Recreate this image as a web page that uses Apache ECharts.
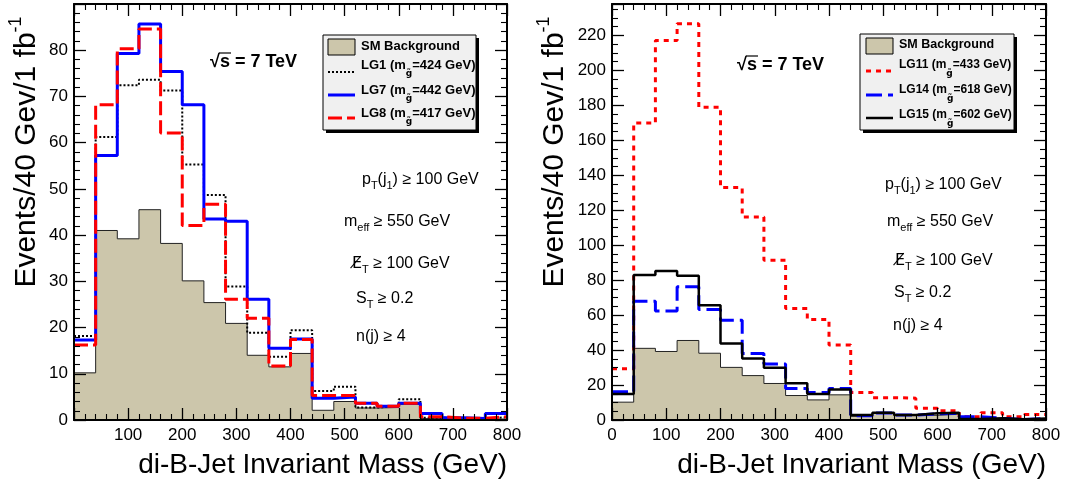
<!DOCTYPE html>
<html><head><meta charset="utf-8">
<script src="https://cdn.jsdelivr.net/npm/echarts@6/dist/echarts.min.js"></script>
<style>html,body{margin:0;padding:0;background:#fff}#c{width:1066px;height:487px}</style>
</head><body><div id="c"></div>
<script>
// ---- data ----
const binLow = [0,40,80,120,160,200,240,280,320,360,400,440,480,520,560,600,640,680,720,760];
const xMax = 800;
const xTicks = [0,100,200,300,400,500,600,700,800];
const yTicksLeft = [0,10,20,30,40,50,60,70,80];
const yTicksRight = [0,20,40,60,80,100,120,140,160,180,200,220];

const smBackground = [10.2,41.0,39.2,45.5,38.2,30.1,25.4,20.9,14.0,11.5,14.4,2.1,4.0,2.6,2.7,3.4,0.3,0.2,0.2,0.2];
const lg1  = [18.2,61.2,72.4,73.6,71.3,55.3,48.7,28.9,18.9,13.7,19.4,6.3,7.2,2.7,3.0,4.5,0.5,0.3,0.3,0.6];
const lg7  = [17.3,57.2,79.3,85.7,75.4,68.2,43.5,43.0,26.1,15.5,17.5,4.7,5.0,3.6,3.0,3.6,1.4,0.5,0.3,1.4];
const lg8  = [16.2,68.2,80.3,84.6,62.1,42.1,46.7,26.1,22.0,11.7,17.4,5.3,5.3,3.6,3.0,3.6,0.7,0.4,0.4,0.7];
const lg11 = [29.3,169.9,217.1,226.7,179.0,133.0,116.2,91.4,63.8,57.5,42.9,15.8,12.8,12.5,6.7,5.3,1.9,4.2,1.9,3.2];
const lg14 = [16.2,68.0,62.3,76.2,63.2,57.1,38.1,32.0,18.0,15.8,18.0,2.5,4.0,2.8,3.5,3.8,1.9,1.0,0.3,0.8];
const lg15 = [14.9,83.0,85.3,82.5,65.7,43.8,35.2,29.9,21.0,14.9,17.5,2.9,4.2,2.9,3.8,4.2,0.6,1.0,0.4,0.8];

// ---- styling ----
const F = "'Liberation Sans', Arial, Helvetica, sans-serif";
const BG = '#ccc6ab';
const chart = echarts.init(document.getElementById('c'), null, {renderer:'canvas'});

function hist(vals){ const d = binLow.map((x,i)=>[x, vals[i]]); d.push([xMax, vals[vals.length-1]]); return d; }

function xAxisPair(grid, labels){
  const base = {type:'value', gridIndex:grid, min:0, max:xMax, interval:100, z:10,
    axisLine:{show:true, onZero:false, lineStyle:{color:'#000', width:2}},
    axisTick:{show:true, inside:true, length:12, lineStyle:{color:'#000', width:1.3}},
    minorTick:{show:true, splitNumber:5, length:6, lineStyle:{color:'#000', width:1.1}},
    splitLine:{show:false}};
  return [
    Object.assign({}, base, {position:'bottom', axisLabel:{show:true, fontSize:17, fontFamily:F, color:'#000', margin:7,
      formatter: v => labels.indexOf(v) >= 0 ? String(v) : ''}}),
    Object.assign({}, base, {position:'top', axisLabel:{show:false}})
  ];
}
function yAxisPair(grid, max, interval, split, labels){
  const base = {type:'value', gridIndex:grid, min:0, max:max, interval:interval, z:10,
    axisLine:{show:true, onZero:false, lineStyle:{color:'#000', width:2}},
    axisTick:{show:true, inside:true, length:12, lineStyle:{color:'#000', width:1.3}},
    minorTick:{show:true, splitNumber:split, length:6, lineStyle:{color:'#000', width:1.1}},
    splitLine:{show:false}};
  return [
    Object.assign({}, base, {position:'left', axisLabel:{show:true, fontSize:17, fontFamily:F, color:'#000', margin:6,
      formatter: v => labels.indexOf(v) >= 0 ? String(v) : ''}}),
    Object.assign({}, base, {position:'right', axisLabel:{show:false}})
  ];
}

function lineSeries(name, xi, yi, vals, ls, z){
  return {type:'line', name:name, xAxisIndex:xi, yAxisIndex:yi, step:'end', symbol:'none', showSymbol:false,
    data:hist(vals), lineStyle:ls, z:z, animation:false, silent:true};
}
function bgSeries(xi, yi){
  return {type:'line', name:'SM Background', xAxisIndex:xi, yAxisIndex:yi, step:'end', symbol:'none', showSymbol:false,
    data:hist(smBackground), lineStyle:{color:'#222', width:1}, areaStyle:{color:BG, opacity:1, origin:'start'}, z:1, animation:false, silent:true};
}

// ---- graphic helpers (legend, annotations, titles) ----
const richAnn = {
  n:{fontSize:16, fontFamily:F, fill:'#000'},
  s:{fontSize:11, fontFamily:F, fill:'#000', padding:[12,0,0,0]},
  e:{fontSize:16, fontFamily:"'DejaVu Sans', sans-serif", fill:'#000'}
};
function ann(x, y, text){
  return {type:'text', x:x, y:y, z:100, style:{text:text, rich:richAnn, fill:'#000', align:'left', verticalAlign:'middle', textAlign:'left', textVerticalAlign:'middle'}};
}
function richLeg(fs){
  return {
    b:{fontSize:fs, fontWeight:'bold', fontFamily:F, fill:'#000'},
    s:{fontSize:9, fontWeight:'bold', fontFamily:"'DejaVu Sans', sans-serif", fill:'#000', padding:[18,0,0,0]}
  };
}
function legText(x, y, text, fs){
  return {type:'text', x:x, y:y, z:102, style:{text:text, rich:richLeg(fs), fill:'#000', align:'left', verticalAlign:'middle', textAlign:'left', textVerticalAlign:'middle'}};
}
function legBox(x, y, w, h){
  return [
    {type:'rect', z:100, shape:{x:x+3, y:y+3, width:w, height:h}, style:{fill:'#000'}},
    {type:'rect', z:101, shape:{x:x, y:y, width:w, height:h}, style:{fill:'#f0f0f0', stroke:'#000', lineWidth:1}}
  ];
}
function legLine(x1, x2, y, stroke, w, dash){
  return {type:'line', z:102, shape:{x1:x1, y1:y, x2:x2, y2:y}, style:{stroke:stroke, lineWidth:w, lineDash:dash || null}};
}
function legSwatch(x, y){
  return {type:'rect', z:102, shape:{x:x, y:y, width:27, height:16}, style:{fill:BG, stroke:'#000', lineWidth:1}};
}
const richTitle = {
  t:{fontSize:30, fontFamily:F, fill:'#000'},
  p:{fontSize:18, fontFamily:F, fill:'#000', padding:[0,0,22,0]}
};
function yTitle(x, y){
  return {type:'text', x:x, y:y, rotation:Math.PI/2, z:100,
    style:{text:'{t|Events/40 Gev/1 fb}{p|-1}', rich:richTitle, fill:'#000', align:'center', verticalAlign:'middle', textAlign:'center', textVerticalAlign:'middle'}};
}
function xTitle(x, y){
  return {type:'text', x:x, y:y, z:100,
    style:{text:'di-B-Jet Invariant Mass (GeV)', font:"28px "+F, fill:'#000', align:'right', verticalAlign:'middle', textAlign:'right', textVerticalAlign:'middle'}};
}
function sqrtS(x, y){
  return [{type:'text', x:x, y:y, z:100,
    style:{text:'√s = 7 TeV', font:"bold 18px "+F, fill:'#000', align:'left', verticalAlign:'middle', textAlign:'left', textVerticalAlign:'middle'}},
    {type:'line', z:100, shape:{x1:x+9, y1:y-9, x2:x+21, y2:y-9}, style:{stroke:'#000', lineWidth:1.2}}];
}
function cuts(x, ys){
  return [
    ann(x[0], ys[0], '{n|p}{s|T}{n|(j}{s|1}{n|) ≥ 100 GeV}'),
    ann(x[1], ys[1], '{n|m}{s|eff}{n| ≥ 550 GeV}'),
    ann(x[2], ys[2], '{e|E̸}{s|T}{n| ≥ 100 GeV}'),
    ann(x[3], ys[3], '{n|S}{s|T}{n| ≥ 0.2}'),
    ann(x[4], ys[4], '{n|n(j) ≥ 4}')
  ];
}

const graphics = [].concat(
  legBox(323, 35, 153, 95),
  [legSwatch(328, 39), legText(361, 46, '{b|SM Background}', 13),
   legLine(328, 355, 72, '#000', 2, [2,2]), legText(361, 65, '{b|LG1 (m}{s|g̃}{b|=424 GeV)}', 13),
   legLine(328, 355, 95, '#0000ff', 3), legText(361, 90, '{b|LG7 (m}{s|g̃}{b|=442 GeV)}', 13),
   legLine(328, 355, 118, '#ff0000', 3, [14,5]), legText(361, 113, '{b|LG8 (m}{s|g̃}{b|=417 GeV)}', 13)],
  legBox(860, 34, 154, 96),
  [legSwatch(866, 38), legText(899, 45, '{b|SM Background}', 12.5),
   legLine(866, 893, 71, '#ff0000', 3, [5,5]), legText(899, 65, '{b|LG11 (m}{s|g̃}{b|=433 GeV)}', 12),
   legLine(866, 893, 95, '#0000ff', 3, [16,6]), legText(899, 90, '{b|LG14 (m}{s|g̃}{b|=618 GeV)}', 12),
   legLine(866, 893, 118, '#000', 2.5), legText(899, 115, '{b|LG15 (m}{s|g̃}{b|=602 GeV)}', 12)],
  sqrtS(210, 62), sqrtS(737, 65),
  cuts([362,344,352,356,356],[180,222,264,299,337]),
  cuts([885,887,895,894,893],[185,222,261,293,326]),
  [yTitle(27, 152), yTitle(555, 152), xTitle(507, 465), xTitle(1046, 465)]
);

const xl = xAxisPair(0, xTicks.filter(v => v !== 0));
const xr = xAxisPair(1, xTicks);
const yl = yAxisPair(0, 90, 10, 5, yTicksLeft);
const yr = yAxisPair(1, 238, 20, 4, yTicksRight);

chart.setOption({
  animation:false,
  backgroundColor:'#fff',
  grid:[
    {left:74, top:4, width:433, height:416},
    {left:612, top:4, width:434, height:416}
  ],
  xAxis:[xl[0], xl[1], xr[0], xr[1]],
  yAxis:[yl[0], yl[1], yr[0], yr[1]],
  series:[
    bgSeries(0, 0),
    lineSeries('LG1', 0, 0, lg1, {color:'#000', width:2, type:[2,2]}, 3),
    lineSeries('LG7', 0, 0, lg7, {color:'#0000ff', width:3, type:'solid'}, 4),
    lineSeries('LG8', 0, 0, lg8, {color:'#ff0000', width:3, type:[14,5]}, 5),
    bgSeries(2, 2),
    lineSeries('LG11', 2, 2, lg11, {color:'#ff0000', width:3, type:[5,5]}, 3),
    lineSeries('LG14', 2, 2, lg14, {color:'#0000ff', width:3, type:[16,6]}, 4),
    lineSeries('LG15', 2, 2, lg15, {color:'#000', width:2.5, type:'solid'}, 5)
  ],
  graphic:graphics
});
</script></body></html>
